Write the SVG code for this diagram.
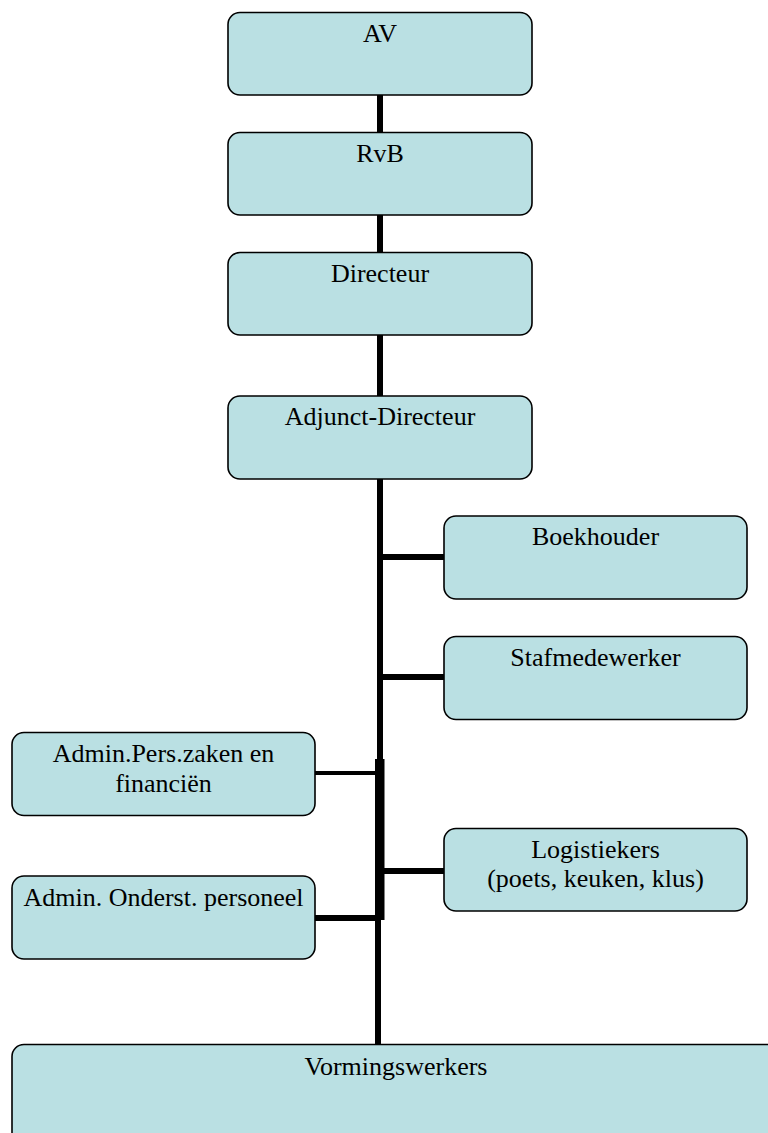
<svg xmlns="http://www.w3.org/2000/svg" width="768" height="1133" viewBox="0 0 768 1133">
<style>
.box{fill:#bae0e3;stroke:#000;stroke-width:1.6}
.t{font-size:26px;fill:#000;text-anchor:middle}
.c{stroke:#000;fill:none}
</style>
<rect x="0" y="0" width="768" height="1133" fill="#fff"/>
<g id="connectors">
<line class="c" x1="380" y1="95" x2="380" y2="133" stroke-width="6"/>
<line class="c" x1="380" y1="215" x2="380" y2="253" stroke-width="6"/>
<line class="c" x1="380" y1="335" x2="380" y2="397" stroke-width="6"/>
<line class="c" x1="380" y1="479" x2="380" y2="760" stroke-width="6"/>
<rect x="375" y="759" width="9.5" height="161" fill="#000"/>
<line class="c" x1="378" y1="919" x2="378" y2="1045" stroke-width="6"/>
<line class="c" x1="380" y1="557" x2="444" y2="557" stroke-width="6"/>
<line class="c" x1="380" y1="677" x2="444" y2="677" stroke-width="6"/>
<line class="c" x1="315" y1="773" x2="376" y2="773" stroke-width="4"/>
<line class="c" x1="383" y1="871" x2="444" y2="871" stroke-width="6"/>
<line class="c" x1="315" y1="918" x2="376" y2="918" stroke-width="6"/>
</g>
<g font-family="'Liberation Serif', 'DejaVu Serif', serif">
<g id="av"><rect class="box" x="228" y="12.5" width="304" height="82.5" rx="12"/><text class="t" x="380" y="42">AV</text></g>
<g id="rvb"><rect class="box" x="228" y="132.5" width="304" height="82.5" rx="12"/><text class="t" x="380" y="162">RvB</text></g>
<g id="directeur"><rect class="box" x="228" y="252.5" width="304" height="82.5" rx="12"/><text class="t" x="380" y="282">Directeur</text></g>
<g id="adjunct"><rect class="box" x="228" y="396" width="304" height="83" rx="12"/><text class="t" x="380" y="425">Adjunct-Directeur</text></g>
<g id="boekhouder"><rect class="box" x="444" y="516" width="303" height="83" rx="12"/><text class="t" x="595.5" y="545">Boekhouder</text></g>
<g id="stafmedewerker"><rect class="box" x="444" y="636.5" width="303" height="83" rx="12"/><text class="t" x="595.5" y="665.5">Stafmedewerker</text></g>
<g id="adminpers"><rect class="box" x="12" y="732.5" width="303" height="83" rx="12"/><text class="t" x="163.5" y="762">Admin.Pers.zaken en</text><text class="t" x="163.5" y="791.5">financiën</text></g>
<g id="logistiekers"><rect class="box" x="444" y="828.5" width="303" height="82.5" rx="12"/><text class="t" x="595.5" y="857.5">Logistiekers</text><text class="t" x="595.5" y="887">(poets, keuken, klus)</text></g>
<g id="adminonderst"><rect class="box" x="12" y="876" width="303" height="83" rx="12"/><text class="t" x="163.5" y="905.5">Admin. Onderst. personeel</text></g>
<g id="vormingswerkers"><rect class="box" x="12" y="1044.5" width="770" height="100" rx="12"/><text class="t" x="396" y="1075">Vormingswerkers</text></g>
</g>
</svg>
